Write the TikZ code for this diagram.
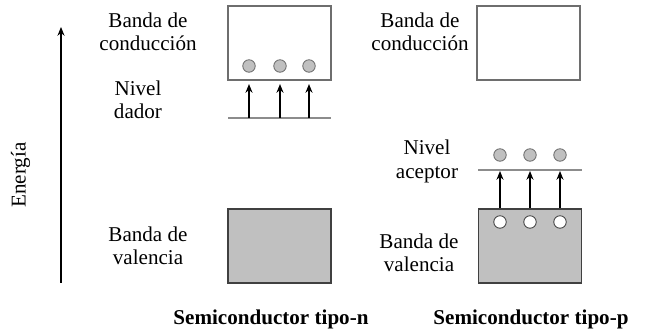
\documentclass[tikz,border=0pt]{standalone}
\usepackage{fontspec}
\setmainfont{Liberation Serif}
\usetikzlibrary{arrows.meta, positioning}

\definecolor{bandgray}{HTML}{C0C0C0}
\definecolor{edgegray}{HTML}{6E6E6E}
\definecolor{linegray}{HTML}{8C8C8C}

\tikzstyle{emptyband} = [rectangle, 
minimum width=2.06cm, 
minimum height=1.48cm, 
draw=edgegray, 
fill=white, 
line width=0.6pt]
\tikzstyle{fullband} = [rectangle, 
minimum width=2.06cm, 
minimum height=1.48cm, 
draw=black!75, 
fill=bandgray, 
line width=0.6pt]
\tikzstyle{electron} = [circle, 
minimum size=0.25cm, 
inner sep=0pt, 
draw=edgegray, 
fill=bandgray, 
line width=0.5pt]
\tikzstyle{hole} = [circle, 
minimum size=0.25cm, 
inner sep=0pt, 
draw=black!75, 
fill=white, 
line width=0.5pt]
\tikzstyle{level} = [draw=linegray, line width=0.8pt]
\tikzstyle{tag} = [align=center, inner sep=0pt, font=\fontsize{12}{13.3}\selectfont]
\tikzstyle{title} = [inner sep=0pt, font=\fontsize{12}{14}\selectfont\bfseries]
\tikzstyle{arrow} = [line width=0.7pt,-{Stealth[length=5pt,width=4pt]}]

\begin{document}
\begin{tikzpicture}[x=0.02cm, y=-0.02cm]

\useasboundingbox (0,0) rectangle (647,334);

% eje de energia
\coordinate (ebot) at (61,283);
\coordinate (etop) at (61,27);
\draw [arrow] (ebot) -- (etop);
\node (energia) [tag, rotate=90] at (20.5,175) {Energía};

% semiconductor tipo-n
\node (condn) [emptyband] at (279.5,43) {};
\node (valn) [fullband] at (279.5,246) {};
\coordinate (dadorL) at (228,118);
\coordinate (dadorR) at (331,118);
\draw [level] (dadorL) -- (dadorR);
\foreach \i/\x in {1/249,2/280,3/309} {
  \node (en\i) [electron] at (\x,66) {};
  \coordinate (dn\i) at (\x,118);
  \draw [arrow, shorten >=0.07cm] (dn\i) -- (dn\i |- condn.south);
}

\node (condlabn) [tag] at (148,31.5) {Banda de\\conducción};
\node (dadorlab) [tag] at (138,100) {Nivel\\dador};
\node (vallabn) [tag] at (148,246) {Banda de\\valencia};
\node (titlen) [title] at (271,319) {Semiconductor tipo-n};

% semiconductor tipo-p
\node (condp) [emptyband] at (528.5,43) {};
\node (valp) [fullband] at (530,246) {};
\coordinate (aceptorL) at (478,170);
\coordinate (aceptorR) at (582,170);
\draw [level] (aceptorL) -- (aceptorR);
\foreach \i/\x in {1/500,2/530,3/560} {
  \node (ep\i) [electron] at (\x,155) {};
  \node (hp\i) [hole] at (\x,222) {};
  \coordinate (ac\i) at (\x,170);
  \draw [arrow, shorten >=0.02cm] (ac\i |- valp.north) -- (ac\i);
}

\node (condlabp) [tag] at (420,31.5) {Banda de\\conducción};
\node (aceptorlab) [tag] at (427,161.5) {Nivel\\aceptor};
\node (vallabp) [tag] at (419,253) {Banda de\\valencia};
\node (titlep) [title] at (531,319) {Semiconductor tipo-p};

\end{tikzpicture}
\end{document}
